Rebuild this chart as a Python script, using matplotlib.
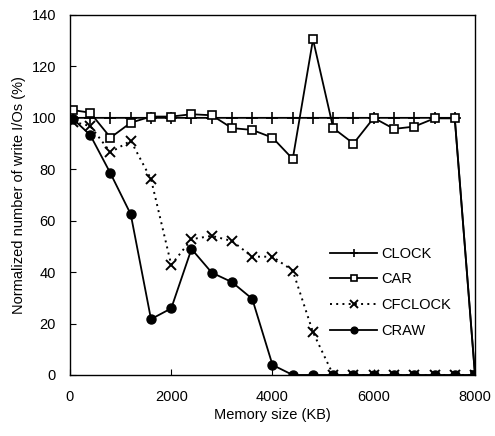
import matplotlib
matplotlib.use("Agg")
import matplotlib.pyplot as plt

plt.rcParams['font.family'] = ['Liberation Sans', 'DejaVu Sans']

# Memory sizes (KB)
memory_kb = [64, 400, 800, 1200, 1600, 2000, 2400, 2800, 3200, 3600, 4000,
             4400, 4800, 5200, 5600, 6000, 6400, 6800, 7200, 7600, 8000]

# Normalized number of write I/Os (%)
clock = [100, 100, 100, 100, 100, 100, 100, 100, 100, 100, 100,
         100, 100, 100, 100, 100, 100, 100, 100, 100, 0]
car = [103, 102, 92.3, 98.1, 100.5, 100.5, 101.4, 101, 96, 95.3, 92.3,
       84, 130.5, 96, 90, 100, 95.7, 96.6, 99.8, 99.8, 0]
cfclock = [98.5, 96.8, 86.6, 91.1, 76.2, 42.8, 52.8, 54.1, 52.1, 46, 46,
           40.6, 16.6, 0, 0, 0, 0, 0, 0, 0, 0]
craw = [99.5, 93.3, 78.4, 62.5, 21.7, 25.9, 49, 39.8, 36.1, 29.6, 3.9,
        0, 0, 0, 0, 0, 0, 0, 0, 0, 0]

x_ticks = [0, 2000, 4000, 6000, 8000]
y_ticks = [0, 20, 40, 60, 80, 100, 120, 140]

fig = plt.figure(figsize=(4.95, 4.36), dpi=100)
ax = fig.add_axes([0.1414, 0.140, 0.8182, 0.8256])

lw = 1.3
ax.plot(memory_kb, clock, color='black', lw=lw, marker='+', ms=8, mew=1.2,
        label='CLOCK')
ax.plot(memory_kb, car, color='black', lw=lw, marker='s', ms=6, mew=1.2,
        mfc='white', label='CAR')
ax.plot(memory_kb, cfclock, color='black', lw=1.4, ls=(0, (1, 2.2)),
        marker='x', ms=7, mew=1.4, label='CFCLOCK')
ax.plot(memory_kb, craw, color='black', lw=lw, marker='o', ms=6.5,
        label='CRAW')

ax.set_xlim(0, 8000)
ax.set_ylim(0, 140)
ax.set_xticks(x_ticks)
ax.set_yticks(y_ticks)
ax.tick_params(direction='in', length=4, width=0.8, labelsize=10.5)
ax.tick_params(axis='x', pad=11)
ax.tick_params(axis='y', pad=10)
for s in ax.spines.values():
    s.set_linewidth(1.0)

ax.set_xlabel('Memory size (KB)', fontsize=10.5, labelpad=3)
ax.set_ylabel('Normalized number of write I/Os (%)', fontsize=10.5, labelpad=4)

ax.legend(loc='center left', bbox_to_anchor=(0.61, 0.23), frameon=False,
          fontsize=10.5, handlelength=3.2, labelspacing=0.8, handletextpad=0.3,
          markerscale=0.75)

fig.savefig('out.png', dpi=100)
